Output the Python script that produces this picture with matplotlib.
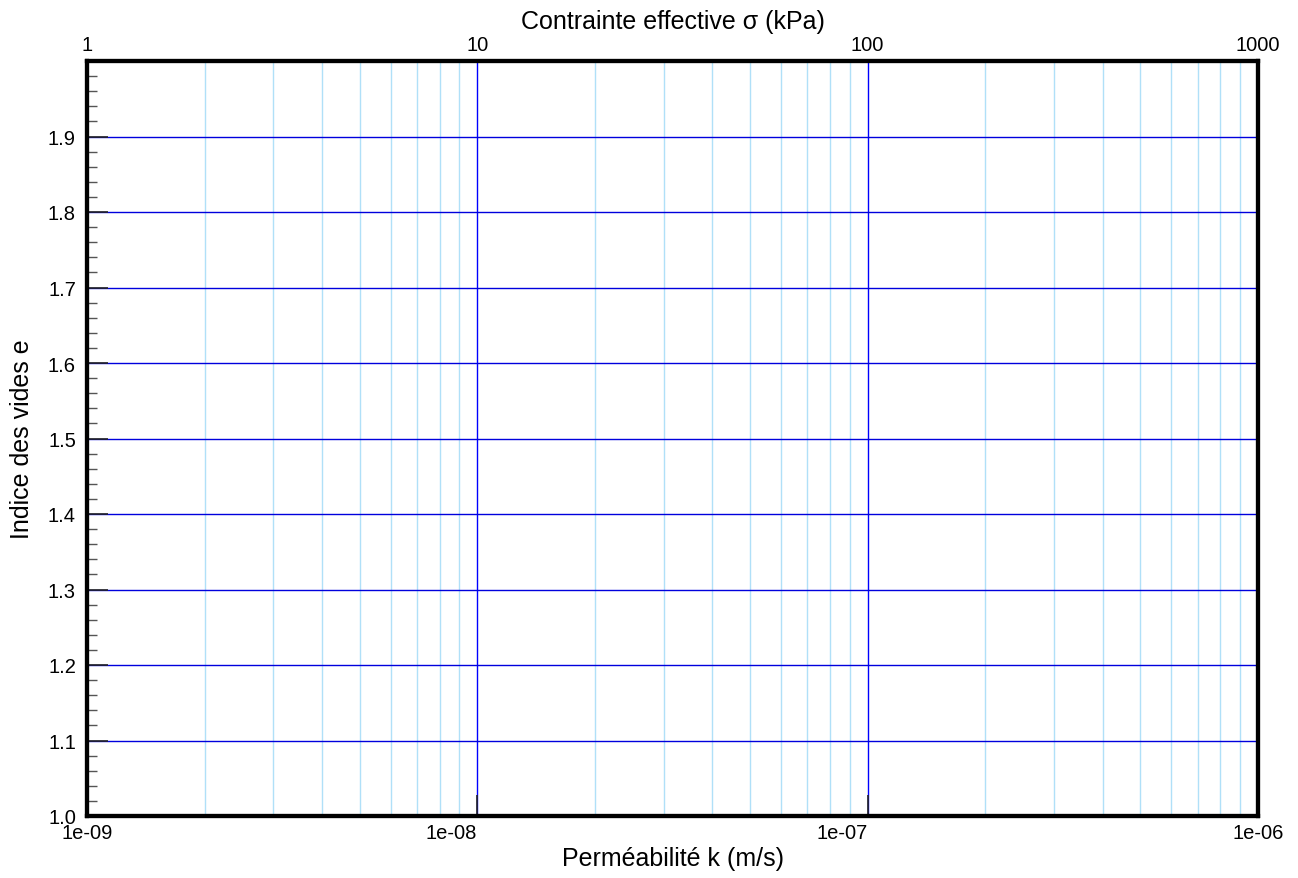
import numpy as np
import matplotlib
matplotlib.use('Agg')
import matplotlib.pyplot as plt
from matplotlib.ticker import FixedLocator, NullFormatter, LogLocator

plt.rcParams['font.family'] = ['Liberation Sans', 'DejaVu Sans']

# axis ranges / tick values
k_range = [1e-9, 1e-6]
k_ticks = [1e-9, 1e-8, 1e-7, 1e-6]
k_labels = ['1e-09', '1e-08', '1e-07', '1e-06']
sigma_range = [1, 1000]
sigma_ticks = [1, 10, 100, 1000]
sigma_labels = ['1', '10', '100', '1000']
e_range = [1.0, 2.0]
e_ticks = [1.0, 1.1, 1.2, 1.3, 1.4, 1.5, 1.6, 1.7, 1.8, 1.9]
e_labels = ['1.0', '1.1', '1.2', '1.3', '1.4', '1.5', '1.6', '1.7', '1.8', '1.9']

fig = plt.figure(figsize=(12.98, 8.79), dpi=100)
ax = fig.add_axes([87/1298, 1 - 817/879, (1258-87)/1298, (817-62)/879])

ax.set_xscale('log')
ax.set_xlim(k_range)
ax.set_ylim(e_range)

ax.xaxis.set_major_locator(FixedLocator(k_ticks))
ax.set_xticklabels(k_labels)
ax.xaxis.set_minor_locator(LogLocator(base=10, subs=np.arange(2, 10)))
ax.xaxis.set_minor_formatter(NullFormatter())
ax.yaxis.set_major_locator(FixedLocator(e_ticks))
ax.set_yticklabels(e_labels)
ax.yaxis.set_minor_locator(FixedLocator(np.arange(1.0, 2.001, 0.02)))

# grid
ax.grid(True, which='major', axis='x', color='#0000ff', lw=1.0)
ax.grid(True, which='minor', axis='x', color='#b0e0f8', lw=1.0)
ax.grid(True, which='major', axis='y', color='#0000dd', lw=1.0)

ax.tick_params(axis='y', which='major', direction='in', length=15, width=1.2,
               color='#222222', labelsize=14.5, pad=8)
ax.tick_params(axis='y', which='minor', direction='in', length=7.5, width=1,
               color='#555555')
ax.tick_params(axis='x', which='major', direction='in', length=15, width=1.2,
               color='#222222', labelsize=14.5, pad=5)
ax.tick_params(axis='x', which='minor', length=0)

# middle bottom labels sit left of their ticks in the original
lbls = ax.get_xticklabels()
for lb in lbls[1:3]:
    lb.set_ha('right')

for s in ax.spines.values():
    s.set_linewidth(3)
    s.set_color('black')

ax.set_xlabel('Perméabilité k (m/s)', fontsize=18, labelpad=3)
ax.set_ylabel('Indice des vides e', fontsize=18, labelpad=10)

# top axis: effective stress
ax2 = ax.twiny()
ax2.set_xscale('log')
ax2.set_xlim(sigma_range)
ax2.xaxis.set_major_locator(FixedLocator(sigma_ticks))
ax2.set_xticklabels(sigma_labels)
ax2.xaxis.set_minor_formatter(NullFormatter())
ax2.tick_params(axis='x', which='both', length=0, labelsize=14.5, pad=5)
ax2.set_xlabel('Contrainte effective σ (kPa)', fontsize=18, labelpad=5)
for s in ax2.spines.values():
    s.set_linewidth(3)
    s.set_color('black')

fig.savefig('out.png', dpi=100, facecolor='white')
